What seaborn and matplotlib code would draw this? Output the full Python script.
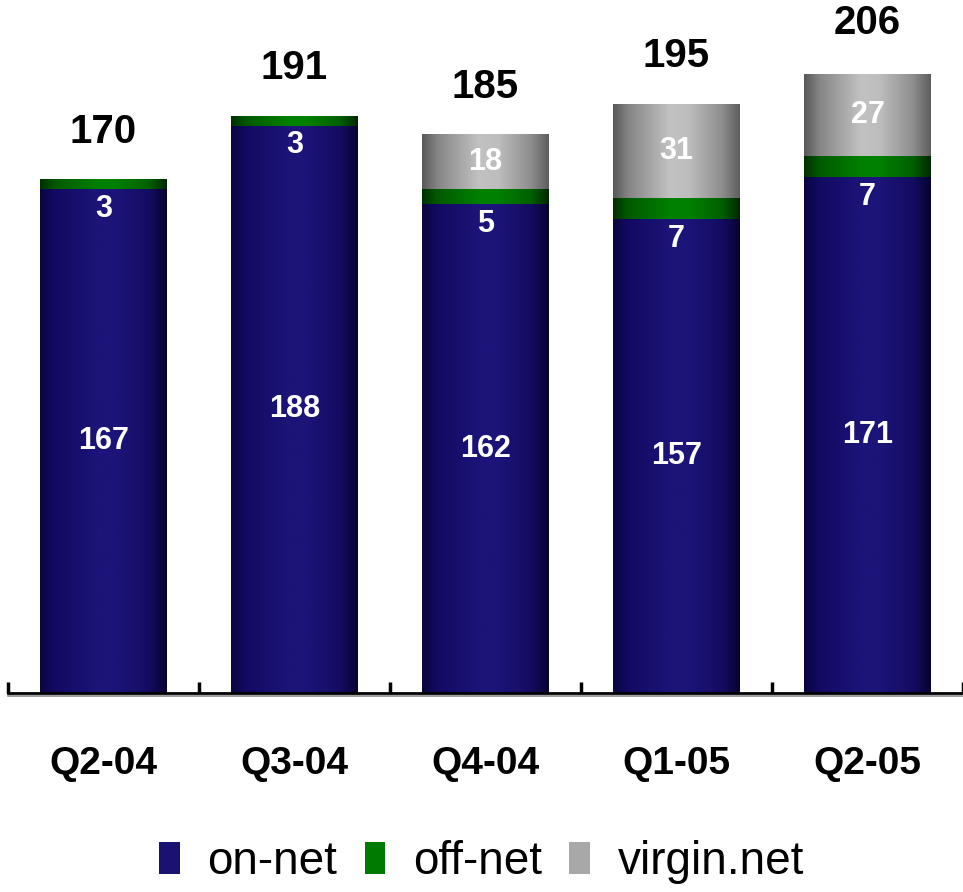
import numpy as np
import pandas as pd
import matplotlib
matplotlib.use("Agg")
import matplotlib.pyplot as plt
import seaborn as sns
from matplotlib.colors import to_rgb
from matplotlib.patches import Patch

sns.set_style("white")
plt.rcParams['font.family'] = ['Liberation Sans', 'DejaVu Sans']
plt.rcParams['text.color'] = 'black'
plt.rcParams['xtick.color'] = 'black'

quarters = ["Q2-04", "Q3-04", "Q4-04", "Q1-05", "Q2-05"]
on_net = [167, 188, 162, 157, 171]
off_net = [3, 3, 5, 7, 7]
virgin_net = [0, 0, 18, 31, 27]
totals = [170, 191, 185, 195, 206]
series_names = ["on-net", "off-net", "virgin.net"]

# gradient profiles (horizontal cylinder shading)
stops = [0.0, 0.12, 0.45, 0.6, 0.86, 1.0]
grad_navy = ["#0a0540", "#120a62", "#1c1478", "#1c1478", "#140c62", "#070330"]
grad_green = ["#003000", "#005a00", "#008000", "#008000", "#006000", "#002800"]
grad_grey = ["#585858", "#858585", "#c2c2c2", "#bdbdbd", "#8e8e8e", "#5e5e5e"]
mid_colors = ["#1a1270", "#007a00", "#a8a8a8"]


def make_grad(cols, n=200):
    t = np.linspace(0, 1, n)
    rgb = np.array([to_rgb(c) for c in cols])
    img = np.stack([np.interp(t, stops, rgb[:, k]) for k in range(3)], axis=-1)
    return img[np.newaxis, :, :]


fig = plt.figure(figsize=(9.63, 8.92), dpi=100)
ax = fig.add_axes([8 / 963, 199 / 892, 955 / 963, 693 / 892])

df = pd.DataFrame({"quarter": quarters, "on": on_net, "off": off_net, "virgin": virgin_net})
bottoms_off = np.array(on_net)
bottoms_virgin = np.array(on_net) + np.array(off_net)

bw = 0.66
sns.barplot(data=df, x="quarter", y="on", color=mid_colors[0], width=bw, ax=ax,
            saturation=1, linewidth=0)
n1 = len(ax.patches)
sns.barplot(data=df, x="quarter", y="off", color=mid_colors[1], width=bw, ax=ax,
            saturation=1, linewidth=0, bottom=bottoms_off)
n2 = len(ax.patches)
sns.barplot(data=df, x="quarter", y="virgin", color=mid_colors[2], width=bw, ax=ax,
            saturation=1, linewidth=0, bottom=bottoms_virgin)

grads = [make_grad(grad_navy), make_grad(grad_green), make_grad(grad_grey)]
for i, p in enumerate(ax.patches):
    layer = 0 if i < n1 else (1 if i < n2 else 2)
    x0, y0 = p.get_x(), p.get_y()
    w, h = p.get_width(), p.get_height()
    if h <= 0:
        continue
    ax.imshow(grads[layer], extent=[x0, x0 + w, y0, y0 + h], aspect="auto",
              interpolation="bilinear", zorder=p.get_zorder() + 0.1)

ax.set_xlim(-0.5, -0.5 + 955 / 191.5)
ax.set_ylim(0, 229.7)

# labels
lab_kw = dict(ha="center", va="center", color="white", fontweight="bold", fontsize=22, zorder=5)
for i in range(len(quarters)):
    ax.text(i, on_net[i] / 2, str(on_net[i]), **lab_kw)
    ax.text(i, on_net[i] - 6.5, str(off_net[i]), **lab_kw)
    if virgin_net[i] > 0:
        ax.text(i, bottoms_virgin[i] + virgin_net[i] / 2, str(virgin_net[i]), **lab_kw)
    ax.text(i, totals[i] + 16, str(totals[i]), ha="center", va="center",
            color="black", fontweight="bold", fontsize=29, zorder=5)

# axes styling
for s in ["left", "top", "right"]:
    ax.spines[s].set_visible(False)
ax.spines["bottom"].set_linewidth(2)
ax.spines["bottom"].set_color("black")
ax.spines["bottom"].set_zorder(6)
# faint shadow under the axis line
ax.axhline(-0.9, color="#a0a0a0", lw=1.5, zorder=1, clip_on=False)
ax.set_yticks([])
ax.set_xlabel("")
ax.set_ylabel("")
ax.set_xticks(range(len(quarters)))
ax.set_xticklabels(quarters, fontsize=28, fontweight="bold", color="black")
ax.set_xticks(np.arange(-0.5, len(quarters), 1.0), minor=True)
ax.tick_params(axis="x", which="both", bottom=True)
ax.tick_params(axis="x", which="major", length=0, pad=38)
ax.tick_params(axis="x", which="minor", direction="in", length=8, width=2.5, color="black")

handles = [Patch(facecolor=c, edgecolor="none") for c in mid_colors]
leg = fig.legend(handles, series_names, loc="center", bbox_to_anchor=(0.5, 1 - 862 / 892),
                 ncol=3, frameon=False, fontsize=33, handlelength=0.45, handleheight=0.7,
                 handletextpad=0.6, columnspacing=0.6, borderpad=0)
for t in leg.get_texts():
    t.set_color("black")

fig.savefig("out.png", dpi=100)
